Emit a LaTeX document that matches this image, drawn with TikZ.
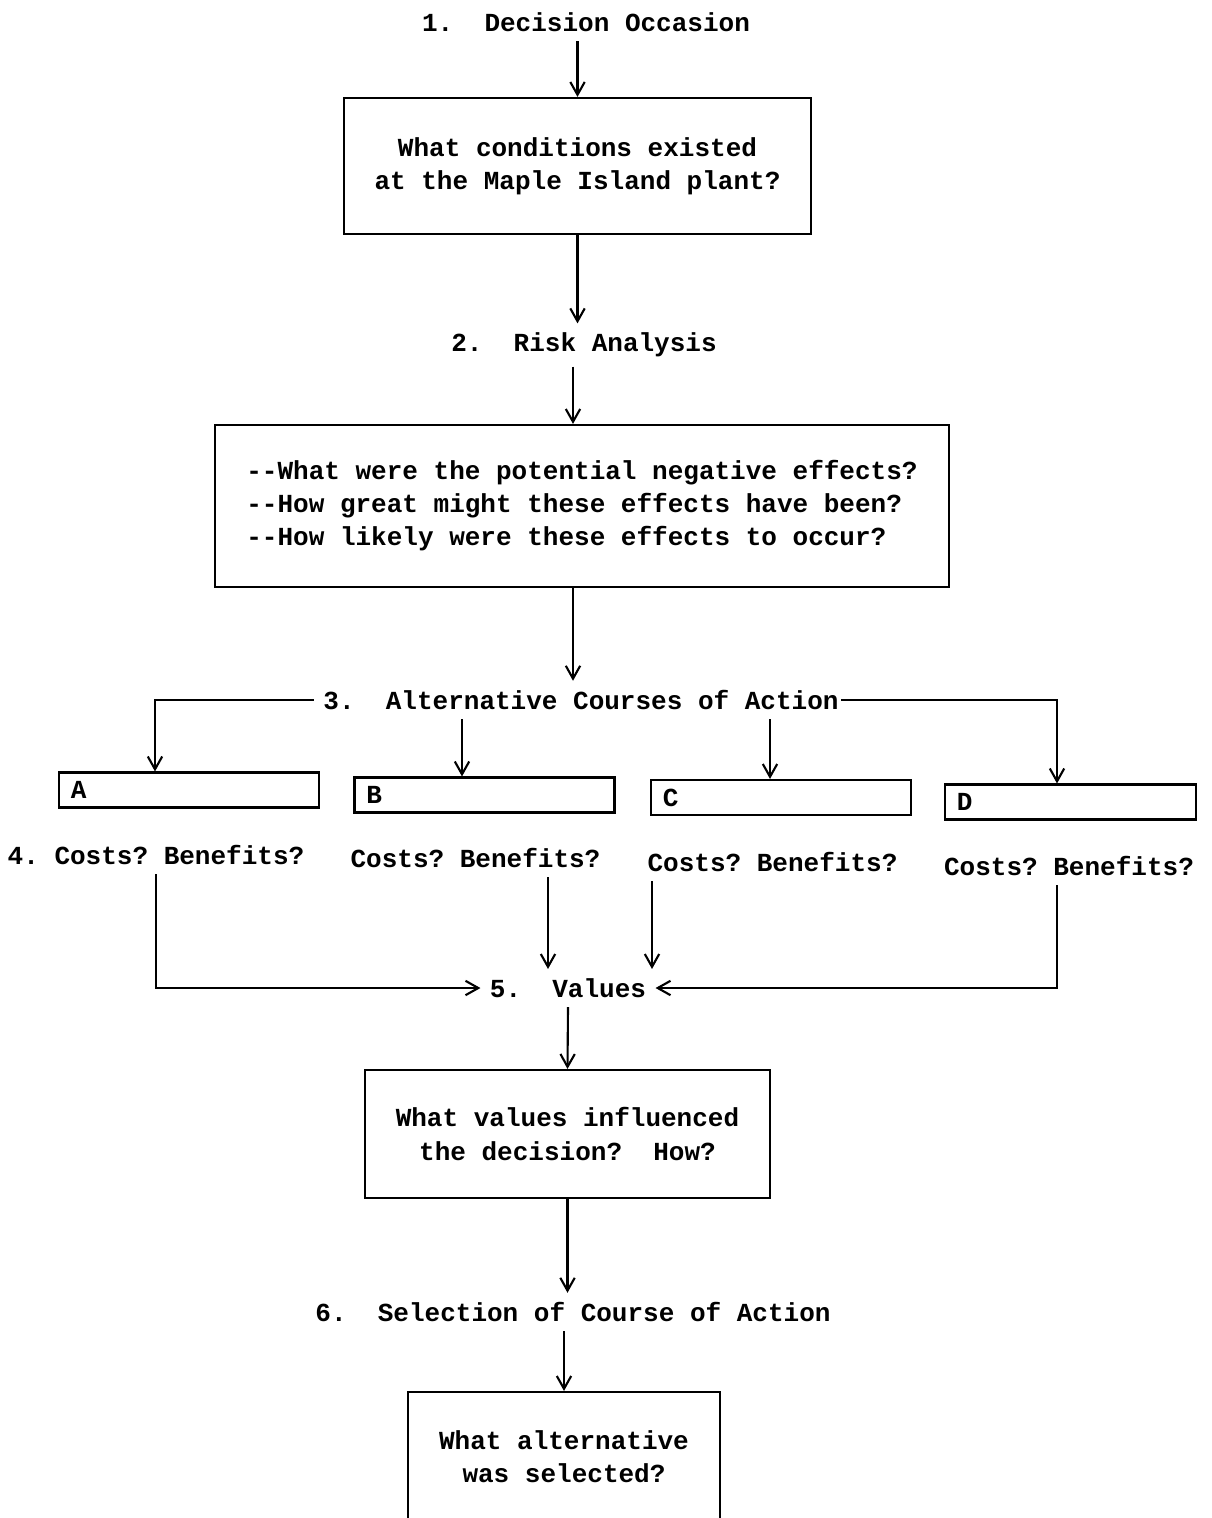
\documentclass[tikz,border=0pt]{standalone}
\usepackage{fontspec}
\setmonofont{Liberation Mono}
\usetikzlibrary{arrows.meta}

\begin{document}
\begin{tikzpicture}[x=0.025cm, y=-0.025cm, line width=1.5pt, >={Straight Barb[length=3.2mm,width=3.6mm]}]
    \tikzstyle{every node}=[font=\fontsize{18.5}{23.5}\selectfont\ttfamily\bfseries, inner sep=6pt]
    \tikzstyle{question box}=[draw, align=center, inner sep=0pt]
    \tikzstyle{option box}=[draw, text width=5.9cm, inner xsep=0.3cm, inner ysep=0pt, minimum height=0.875cm, align=left]

    \useasboundingbox (0,0) rectangle (1211,1518);
    \clip (0,0) rectangle (1211,1518);

    \node (occ) at (586,22) {1.~~Decision Occasion};
    \node[question box, minimum width=11.675cm, minimum height=3.4cm] (cond) at (577.5,166) {What conditions existed\\at the Maple Island plant?};
    \node (risk) at (584,345) {2.~~Risk Analysis};
    \node[question box, minimum width=18.35cm, minimum height=4.05cm, align=left] (effects) at (582,506) {--What were the potential negative effects?\\--How great might these effects have been?\\--How likely were these effects to occur?};
    \node (alt) at (581,700) {3.~~Alternative Courses of Action};

    \node[option box] (A) at (189,790) {A};
    \node[option box] (B) at (484.5,795) {B};
    \node[option box] (C) at (781,797.5) {C};
    \node[option box, text width=5.675cm] (D) at (1070.5,802) {D};

    \node (costA) at (156,855) {4. Costs? Benefits?};
    \node (costB) at (475.5,858) {Costs? Benefits?};
    \node (costC) at (772.5,862) {Costs? Benefits?};
    \node (costD) at (1069,866) {Costs? Benefits?};

    \node (values) at (568,988) {5.~~Values};
    \node[question box, minimum width=10.125cm, minimum height=3.2cm] (influence) at (567.5,1134) {What values influenced\\the decision?~~How?};
    \node (select) at (573,1312) {6.~~Selection of Course of Action};
    \node[question box, minimum width=7.8cm, minimum height=3.25cm] (chosen) at (564,1457) {What alternative\\was selected?};

    % columns of the branch lines
    \coordinate (spine) at (573,0);
    \coordinate (colA) at (155,0);
    \coordinate (inB) at (462,0);
    \coordinate (inC) at (770,0);
    \coordinate (colD) at (1057,0);
    \coordinate (outB) at (548,0);
    \coordinate (outC) at (652,0);

    \draw[->] (occ.south -| cond.north) -- (cond.north);
    \draw[->] (cond.south) -- (risk.north -| cond.south);
    \draw[->] (risk.south -| spine) -- (spine |- effects.north);
    \draw[->] (effects.south -| spine) -- (spine |- alt.north);

    \draw[->] (alt.west) -| (colA |- A.north);
    \draw[->] (alt.south -| inB) -- (inB |- B.north);
    \draw[->] (alt.south -| inC) -- (inC |- C.north);
    \draw[->] ([xshift=-5pt]alt.east) -| (colD |- D.north);

    \draw[->] (costA.south) |- (values.west);
    \draw[->] (costB.south -| outB) -- (outB |- values.north);
    \draw[->] (costC.south -| outC) -- (outC |- values.north);
    \draw[->] (costD.south -| colD) |- (values.east);

    \draw[->] (values.south) -- (influence.north);
    \draw[->] (influence.south) -- (select.north -| influence.south);
    \draw[->] (select.south -| chosen.north) -- (chosen.north);
\end{tikzpicture}
\end{document}
